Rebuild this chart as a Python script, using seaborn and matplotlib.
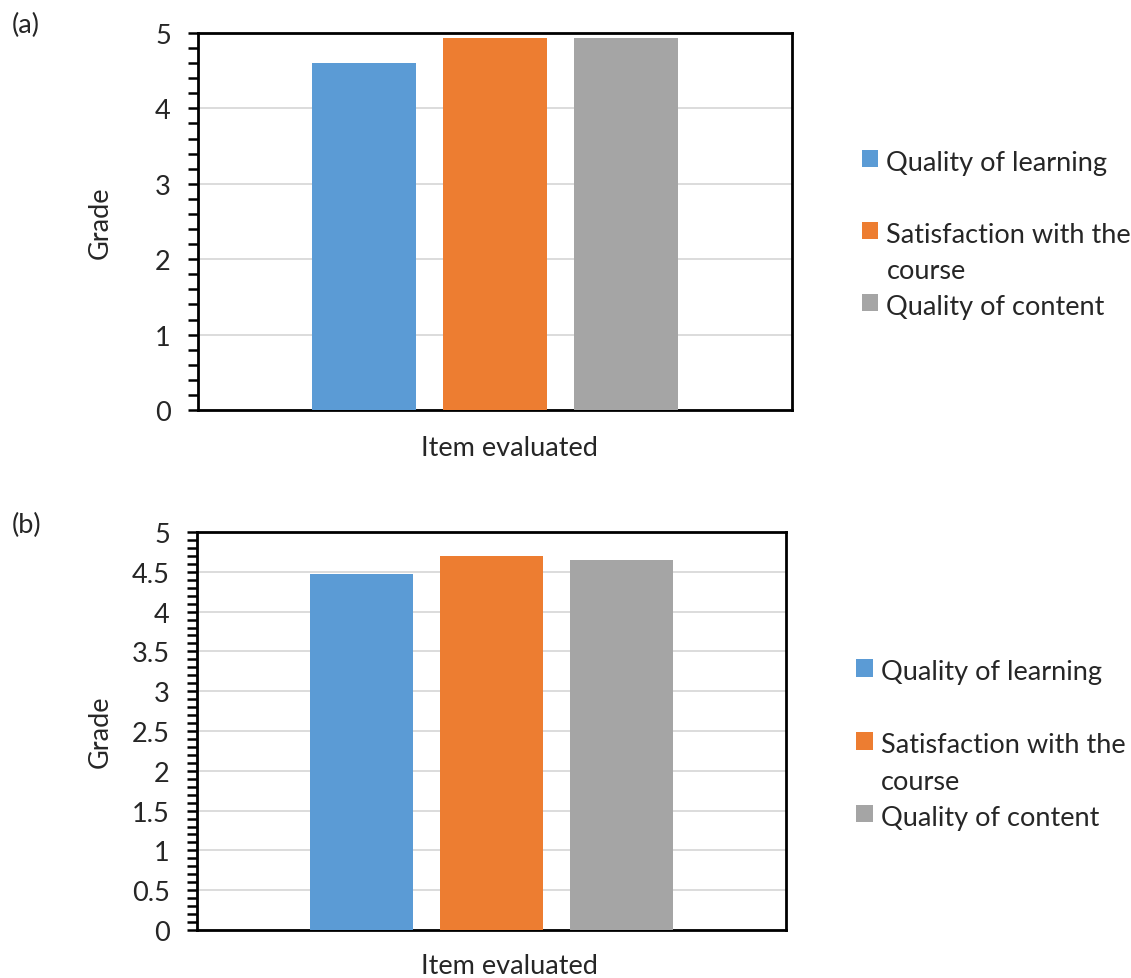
import matplotlib
matplotlib.use("Agg")
import matplotlib.pyplot as plt
from matplotlib.ticker import MultipleLocator, FuncFormatter
import seaborn as sns
import pandas as pd

criteria = ["Quality of learning", "Satisfaction with the course", "Quality of content"]
legend_labels = ["Quality of learning\n ", "Satisfaction with the\ncourse", "Quality of content"]
grades_a = [4.60, 4.93, 4.93]
grades_b = [4.47, 4.70, 4.65]
colors = ["#5B9BD5", "#ED7D31", "#A5A5A5"]
item = "Item evaluated"

sns.set_theme(style="white")
plt.rcParams["font.family"] = ["Lato", "DejaVu Sans"]
FS = 19.5

fig = plt.figure(figsize=(11.31, 9.79), dpi=100)
ax_a = fig.add_axes([198/1131, 1-411/979, 594/1131, 377/979])
ax_b = fig.add_axes([197/1131, 1-931/979, 589/1131, 398/979])

panels = [
    (ax_a, grades_a, 1.0, 0.2, "(a)", 25, (-0.165, 0.5), (0.5236, -0.100), (1.076, 0.466), 1.55),
    (ax_b, grades_b, 0.5, 0.1, "(b)", 525, (-0.165, 0.5), (0.5297, -0.090), (1.077, 0.466), 1.58),
]

for ax, grades, major, minor, tag, tag_y, ylc, xlc, anchor, lsp in panels:
    df = pd.DataFrame({"item": [item]*3, "criterion": criteria, "grade": grades})
    sns.barplot(data=df, x="item", y="grade", hue="criterion", hue_order=criteria,
                palette=colors, width=0.66, gap=0.205, saturation=1, ax=ax,
                errorbar=None, linewidth=0, zorder=3)
    ax.set_xlim(-0.5, 0.5)
    ax.set_ylim(0, 5)
    ax.yaxis.set_major_locator(MultipleLocator(major))
    ax.yaxis.set_minor_locator(MultipleLocator(minor))
    ax.yaxis.set_major_formatter(FuncFormatter(lambda v, p: f"{v:g}"))
    ax.grid(axis="y", which="major", color="#d9d9d9", linewidth=1.3, zorder=0)
    ax.set_axisbelow(True)
    ax.tick_params(axis="y", which="both", direction="out", left=True, length=7.5,
                   width=1.8, color="black", labelsize=FS, pad=12)
    ax.tick_params(axis="x", bottom=False, labelbottom=False)
    for s in ax.spines.values():
        s.set_color("black")
        s.set_linewidth(2)
    ax.set_ylabel("Grade", fontsize=FS)
    ax.set_xlabel(item, fontsize=FS)
    ax.yaxis.set_label_coords(*ylc)
    ax.yaxis.label.set_va("center")
    ax.xaxis.set_label_coords(*xlc)
    ax.xaxis.label.set_va("center")
    h, _ = ax.get_legend_handles_labels()
    leg = ax.legend(h, legend_labels, loc="center left", bbox_to_anchor=anchor,
                    frameon=False, fontsize=FS, handlelength=0.62, handleheight=0.62,
                    handletextpad=0.3, labelspacing=0.41)
    for col in leg._legend_handle_box.get_children():
        for hp in col.get_children():
            hp.align = "top"
    for t in leg.get_texts():
        t.set_linespacing(lsp)
    fig.text(12/1131, 1-tag_y/979, tag, fontsize=FS, va="center", ha="left")

fig.savefig("out.png", dpi=100)
